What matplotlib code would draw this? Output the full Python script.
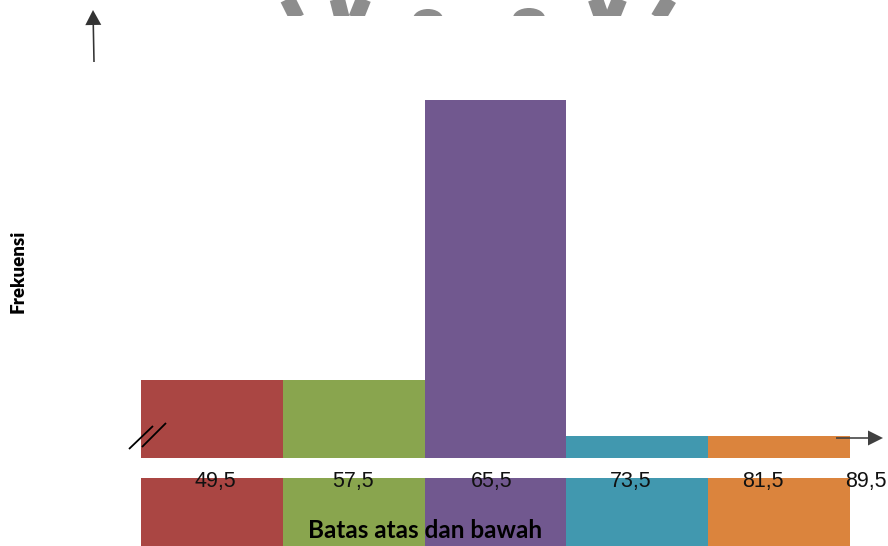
import matplotlib
matplotlib.use('Agg')
import matplotlib.pyplot as plt
from matplotlib.patches import FancyArrow, Ellipse

# class boundaries and frequencies
edges = [49.5, 57.5, 65.5, 73.5, 81.5, 89.5]
freq = [7, 7, 32, 2, 2]
edge_labels = ['49,5', '57,5', '65,5', '73,5', '81,5', '89,5']
colors = ['#AA4643', '#89A54E', '#71588F', '#4198AF', '#DB843D']

W, H = 888, 546
fig = plt.figure(figsize=(W / 100, H / 100), dpi=100)

# main axes spans the whole figure; limits chosen so the bars sit where they should
ax = fig.add_axes([0, 0, 1, 1])
px_x = (850 - 141) / (edges[-1] - edges[0])
px_y = 358 / max(freq)
ax.set_xlim(edges[0] - 141 / px_x, edges[-1] + (W - 850) / px_x)
ax.set_ylim(-(H - 458) / px_y, 458 / px_y)
ax.axis('off')

widths = [b - a for a, b in zip(edges[:-1], edges[1:])]
ax.bar(edges[:-1], freq, width=widths, align='edge', color=colors, linewidth=0)

# colour strip under the axis
strip_top = -20 / px_y
strip_bot = -(H - 458) / px_y
ax.bar(edges[:-1], [strip_top - strip_bot] * len(widths), bottom=strip_bot,
       width=widths, align='edge', color=colors, linewidth=0)

label_pos = [e + 4.0 for e in edges[:-1]] + [edges[-1] + 0.9]
label_shift = [0.2, -0.05, -0.2, -0.4, -0.9, 0]
for x, dx, lab in zip(label_pos, label_shift, edge_labels):
    ax.text(x + dx, -23 / px_y, lab, ha='center', va='center',
            fontsize=15.5, family='Liberation Sans', color='#111111')

ax.text(edges[2], -72 / px_y, 'Batas atas dan bawah',
        ha='center', va='center', fontsize=17.5, fontweight='bold',
        family='Lato', color='black')

# overlay in pixel units for arrows, break marks and the axis title
ov = fig.add_axes([0, 0, 1, 1])
ov.set_xlim(0, W)
ov.set_ylim(H, 0)
ov.axis('off')
ov.patch.set_alpha(0)

ov.add_patch(FancyArrow(94, 62, -1, -52, width=1.6, head_width=16, head_length=15,
                        length_includes_head=True, color='#333333', lw=0))
ov.add_patch(FancyArrow(836, 438, 47, 0, width=1.6, head_width=15, head_length=15,
                        length_includes_head=True, color='#404040', lw=0))

ov.plot([129, 153], [449, 426], color='black', lw=1.3, solid_capstyle='butt')
ov.plot([142, 166], [447, 423], color='black', lw=1.3, solid_capstyle='butt')

ov.text(18, 271, 'Frekuensi', rotation=90, ha='center', va='center',
        fontsize=13.5, fontweight='heavy', family='Lato', color='black')

# cut-off watermark along the top edge (its own strip so it clips at 16 px)
top = fig.add_axes([0, 1 - 16 / H, 1, 16 / H])
top.set_xlim(0, W)
top.set_ylim(16, 0)
top.axis('off')
top.patch.set_alpha(0)
grey = '#8d8d8d'
strokes = [([287, 297], [-2, 18]),
           ([337, 342], [-2, 18]), ([364, 356], [-2, 18]),
           ([595, 602], [-2, 18]), ([620, 612], [-2, 18]),
           ([670, 658], [-2, 18])]
for xs, ys in strokes:
    top.plot(xs, ys, color=grey, lw=11, solid_capstyle='butt')
for cx, cy, w in [(428, 19, 30), (529, 18, 32)]:
    top.add_patch(Ellipse((cx, cy), w, 20, color=grey, lw=0))

fig.savefig('out.png', dpi=100)
